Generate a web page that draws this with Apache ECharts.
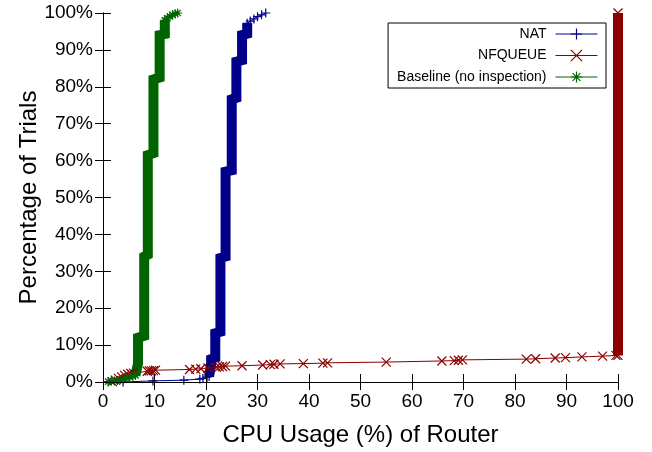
<!DOCTYPE html>
<html>
<head>
<meta charset="utf-8">
<script src="https://cdn.jsdelivr.net/npm/echarts@6/dist/echarts.min.js"></script>
<style>
html,body{margin:0;padding:0;background:#fff;}
#chart{width:652px;height:452px;}
</style>
</head>
<body>
<div id="chart"></div>
<script>
// ---- data (x = CPU %, y = % of trials) ----
var seriesNames = ['NAT', 'NFQUEUE', 'Baseline (no inspection)'];

var natTail = [[3.9,0],[9.7,0.3],[15.7,0.5],[18.8,0.8],[19.4,1.0],[20.2,1.3]];
var natBand = [[20.6,1.5],[21.0,5],[21.0,6.2],[21.8,6.6],[21.8,13.2],[22.8,13.6],[22.8,33.6],[23.8,34],[23.8,57],[25.0,57.4],[25.0,76.6],[25.9,77],[25.9,86.8],[27.0,87.2],[27.0,94],[28.0,94.4],[28.0,97.2]];
var natTop = [[28.6,97.8],[29.3,98.4],[30.0,99.0],[30.8,99.5],[31.6,100]];

var nfqTail = [[1.8,0.1],[2.4,0.5],[3.0,1.0],[3.6,1.4],[4.2,1.8],[4.8,2.1],[5.4,2.3],[5.9,2.4],[8.6,2.9],[9.0,3.0],[9.4,3.0],[9.8,3.1],[10.2,3.2],[16.8,3.4],[18.0,3.5],[19.0,3.6],[20.4,3.8],[22.0,4.0],[22.6,4.1],[23.2,4.2],[23.8,4.3],[27.0,4.4],[31.0,4.6],[32.5,4.7],[33.2,4.8],[34.4,4.9],[38.9,5.0],[42.7,5.1],[43.6,5.2],[55.0,5.4],[65.8,5.7],[68.2,5.8],[69.0,5.9],[69.8,6.0],[82.2,6.2],[84.0,6.3],[87.8,6.5],[89.8,6.6],[93.0,6.8],[97.0,7.0],[99.6,7.2]];
var nfqBand = [[100,7.2],[100,100]];

var baseTail = [[1.0,0.1],[1.6,0.2],[2.2,0.3],[2.8,0.4],[3.4,0.6],[4.0,0.8],[4.6,1.0],[5.2,1.3],[5.8,1.6]];
var baseBand = [[6.3,1.8],[6.8,5],[6.8,12],[8.0,12.5],[8.0,34],[8.7,34.5],[8.7,61.5],[9.8,62],[9.8,82],[11.0,82.5],[11.0,94],[12.0,94.3],[12.0,98]];
var baseTop = [[12.5,98.6],[13.0,99.1],[13.5,99.5],[14.0,99.8],[14.5,100]];

var colors = ['#00008b', '#8b0000', '#006400'];
var symbols = [
  'path://M0,5L10,5M5,0L5,10',
  'path://M0,0L10,10M10,0L0,10',
  'path://M0,5L10,5M5,0L5,10M1.5,1.5L8.5,8.5M8.5,1.5L1.5,8.5'
];

var FONT = 'Liberation Sans';

function thin(i, data) {
  return {
    name: seriesNames[i], type: 'line', data: data, clip: false,
    symbol: symbols[i], symbolSize: 9, showSymbol: true, showAllSymbol: true,
    itemStyle: {color: colors[i], borderColor: colors[i], borderWidth: 1.2},
    lineStyle: {color: colors[i], width: 1},
    emphasis: {disabled: true}, animation: false, z: 2
  };
}
function band(i, data) {
  return {
    name: seriesNames[i] + ' band', type: 'line', data: data, clip: false,
    showSymbol: false, silent: true,
    itemStyle: {color: colors[i]},
    lineStyle: {color: colors[i], width: 10, join: 'miter', cap: 'butt'},
    emphasis: {disabled: true}, animation: false, z: 2
  };
}

var axisCommon = {
  type: 'value', min: 0, max: 100, interval: 10,
  axisLine: {show: true, lineStyle: {color: '#000', width: 1}},
  axisTick: {show: true, inside: true, length: 8, lineStyle: {color: '#000', width: 1}},
  splitLine: {show: false},
  z: 3
};

var chart = echarts.init(document.getElementById('chart'), null, {renderer: 'canvas'});
chart.setOption({
  animation: false,
  backgroundColor: '#fff',
  textStyle: {fontFamily: FONT},
  grid: {left: 103, right: 34, top: 13, bottom: 68, containLabel: false},
  legend: {
    data: seriesNames,
    orient: 'vertical', align: 'right',
    right: 46, top: 23,
    padding: [4, 8, 4, 9],
    itemGap: 7.5, itemWidth: 42, itemHeight: 14,
    backgroundColor: '#fff', borderColor: '#000', borderWidth: 1, borderRadius: 0,
    textStyle: {fontFamily: FONT, fontSize: 14, color: '#000', padding: [0, 4, 0, 0]},
    itemStyle: {borderWidth: 1.2},
    lineStyle: {width: 1},
    selectedMode: false
  },
  xAxis: [
    Object.assign({}, axisCommon, {
      position: 'bottom',
      name: 'CPU Usage (%) of Router', nameLocation: 'middle', nameGap: 41,
      nameMoveOverlap: false,
      nameTextStyle: {fontFamily: FONT, fontSize: 24, color: '#000'},
      axisLabel: {fontFamily: FONT, fontSize: 19, color: '#000', margin: 10}
    }),
    Object.assign({}, axisCommon, {position: 'top', axisLabel: {show: false}})
  ],
  yAxis: [
    Object.assign({}, axisCommon, {
      position: 'left',
      name: 'Percentage of Trials', nameLocation: 'middle', nameGap: 62,
      nameMoveOverlap: false,
      nameTextStyle: {fontFamily: FONT, fontSize: 24, color: '#000'},
      axisLabel: {fontFamily: FONT, fontSize: 19, color: '#000', margin: 10, formatter: '{value}%'}
    }),
    Object.assign({}, axisCommon, {position: 'right', axisLabel: {show: false}})
  ],
  series: [
    thin(0, natTail.concat(natBand, natTop)),
    band(0, natBand),
    thin(1, nfqTail.concat(nfqBand)),
    band(1, nfqBand),
    thin(2, baseTail.concat(baseBand, baseTop)),
    band(2, baseBand)
  ]
});
</script>
</body>
</html>
